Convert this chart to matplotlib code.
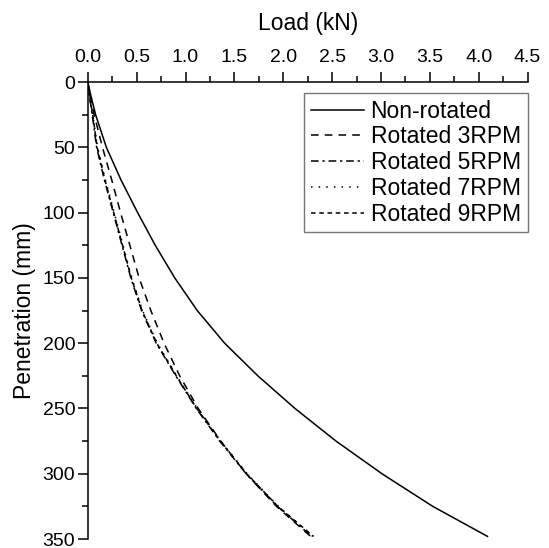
import matplotlib
matplotlib.use("Agg")
import matplotlib.pyplot as plt
from matplotlib.ticker import MultipleLocator, FormatStrFormatter

plt.rcParams['font.family'] = ['Liberation Sans', 'DejaVu Sans']

# Penetration (mm) and load (kN) for each test
pen = [0, 10, 25, 50, 75, 100, 125, 150, 175, 200, 225, 250, 275, 300, 325, 348]
load_non_rotated = [0, 0.03, 0.08, 0.19, 0.34, 0.51, 0.69, 0.89, 1.12, 1.40, 1.74, 2.12, 2.54, 3.01, 3.53, 4.09]
load_rot3 = [0, 0.02, 0.065, 0.15, 0.245, 0.335, 0.43, 0.525, 0.645, 0.78, 0.94, 1.13, 1.36, 1.62, 1.93, 2.28]
load_rot5 = [0, 0.015, 0.045, 0.09, 0.17, 0.26, 0.35, 0.44, 0.55, 0.70, 0.90, 1.11, 1.35, 1.62, 1.94, 2.29]
load_rot7 = [0, 0.02, 0.05, 0.10, 0.18, 0.27, 0.36, 0.45, 0.56, 0.71, 0.91, 1.12, 1.36, 1.63, 1.95, 2.30]
load_rot9 = [0, 0.015, 0.05, 0.095, 0.175, 0.265, 0.355, 0.445, 0.555, 0.705, 0.905, 1.115, 1.355, 1.625, 1.945, 2.31]

labels = ["Non-rotated", "Rotated 3RPM", "Rotated 5RPM", "Rotated 7RPM", "Rotated 9RPM"]
series = [load_non_rotated, load_rot3, load_rot5, load_rot7, load_rot9]
styles = ['-', (0, (5, 4)), (0, (5, 2.5, 1.5, 2.5)), (0, (1, 4)), (0, (3, 2.4))]

fig = plt.figure(figsize=(5.49, 5.48), dpi=100)
ax = fig.add_axes([0.160, 0.0164, 0.801, 0.8336])

for s, lab, ls in zip(series, labels, styles):
    ax.plot(s, pen, color='black', linestyle=ls, linewidth=1.1, label=lab)

ax.set_xlim(0, 4.5)
ax.set_ylim(350, 0)
ax.xaxis.tick_top()
ax.xaxis.set_label_position('top')
ax.xaxis.set_major_locator(MultipleLocator(0.5))
ax.xaxis.set_minor_locator(MultipleLocator(0.25))
ax.yaxis.set_major_locator(MultipleLocator(50))
ax.yaxis.set_minor_locator(MultipleLocator(25))
ax.xaxis.set_major_formatter(FormatStrFormatter('%.1f'))

for side in ['right', 'bottom']:
    ax.spines[side].set_visible(False)
for side in ['left', 'top']:
    ax.spines[side].set_linewidth(1.1)

ax.tick_params(axis='both', which='major', length=7, width=1.1, direction='out', labelsize=14)
ax.tick_params(axis='both', which='minor', length=4, width=1.1, direction='out')
ax.tick_params(axis='x', which='major', pad=5)
ax.tick_params(axis='y', which='major', pad=2)

ax.set_xlabel("Load (kN)", fontsize=16.5, labelpad=13)
ax.set_ylabel("Penetration (mm)", fontsize=16.5, labelpad=5)

leg = ax.legend(loc='upper right', bbox_to_anchor=(1.0, 0.977), fontsize=16.5,
                frameon=True, fancybox=False, handlelength=2.3, handletextpad=0.3,
                labelspacing=0.12, borderpad=0.3, borderaxespad=0.0)
leg.get_frame().set_edgecolor('#555555')
leg.get_frame().set_linewidth(1.0)

fig.savefig("out.png", dpi=100)
